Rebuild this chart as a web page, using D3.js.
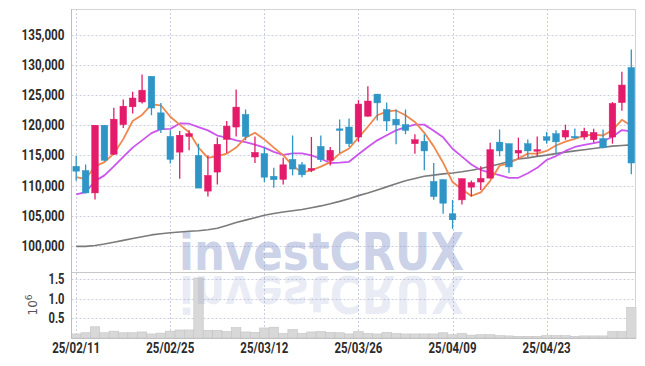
<!DOCTYPE html>
<html>
<head>
<meta charset="utf-8">
<script src="https://cdn.jsdelivr.net/npm/d3@7"></script>
<style>
  body { margin: 0; background: #fff; }
</style>
</head>
<body>
<svg id="chart" width="645" height="366"></svg>
<script>
// trading days, 25/02/11 .. 25/05/09
var dates = ["25/02/11","25/02/12","25/02/13","25/02/14","25/02/17","25/02/18","25/02/19","25/02/20","25/02/21","25/02/24",
  "25/02/25","25/02/26","25/02/27","25/02/28","25/03/04","25/03/05","25/03/06","25/03/07","25/03/10","25/03/11",
  "25/03/12","25/03/13","25/03/14","25/03/17","25/03/18","25/03/19","25/03/20","25/03/21","25/03/24","25/03/25",
  "25/03/26","25/03/27","25/03/28","25/03/31","25/04/01","25/04/02","25/04/03","25/04/04","25/04/07","25/04/08",
  "25/04/09","25/04/10","25/04/11","25/04/14","25/04/15","25/04/16","25/04/17","25/04/18","25/04/21","25/04/22",
  "25/04/23","25/04/24","25/04/25","25/04/28","25/04/29","25/04/30","25/05/02","25/05/07","25/05/08","25/05/09"];

var opens = [113200,112500,108800,120000,115200,120100,123050,123850,128100,122050,
  118150,115550,118150,115000,109100,112250,117650,119700,121800,114750,
  115300,111550,111050,114350,113450,112550,116500,114200,119400,119700,
  118050,121500,125150,122600,121000,120100,116950,117350,110700,111000,
  105350,107650,109750,110600,111250,117200,116950,115400,116950,115750,
  118100,118600,118050,118150,118050,117600,117800,118050,123750,129550];
var highs = [114900,113500,120000,120000,122900,124250,125550,128400,128100,123700,
  119150,119050,119150,116950,115000,117950,120700,125900,122600,118150,
  116300,112950,114600,118300,113900,118050,118300,116400,120950,121100,
  124150,126450,125150,123750,122600,122600,118500,118500,113750,111000,
  107650,111150,110850,113200,117100,119300,116950,117950,117650,118150,
  118900,119150,120100,119450,119600,119400,119300,123850,128850,132550];
var lows = [110800,108700,107700,114100,115100,119550,121950,123600,121650,118700,
  113650,111150,115850,109600,108200,110200,115400,118150,117500,113750,
  110600,109650,110200,111700,111400,112250,113900,113350,115400,116400,
  117250,121400,120800,119050,116850,118500,115300,112550,107650,105350,
  102850,106900,108200,109300,111200,114850,112100,114450,114750,114850,
  116950,115200,117600,117800,117600,117200,116150,116950,122400,111900];
var closes = [112400,108800,120000,114200,121000,123150,124500,125800,122850,119300,
  114350,118350,118600,109600,111700,116850,119850,123000,118150,115500,
  111400,111000,113450,112750,111800,112850,114300,115850,119150,116950,
  123500,124000,123700,120700,120050,119150,117600,115750,108200,107100,
  104350,111150,110500,111200,115950,115750,113100,115850,115750,115950,
  117500,117250,119150,117950,119000,118800,116300,123600,126650,113750];

// moving averages as drawn (orange, purple, grey)
var ma5 = [111400,111100,113200,113900,115300,117700,120700,121700,123450,123300,
  121400,120100,118850,116300,114600,114900,115300,116300,117950,118750,
  117650,116300,115050,113300,112200,112550,113150,113900,115300,116150,
  117950,119750,121650,122250,122450,121650,120550,118750,116500,113800,
  110600,109400,108300,108900,110800,113300,113700,114500,115300,115300,
  115750,116650,117300,117750,118300,118450,118300,119200,120900,119900];
var ma10 = [108550,108950,110750,111700,113200,114750,116300,117500,118700,119350,
  119400,120300,120250,119700,119150,118300,117950,117500,117200,116800,
  116300,115600,115100,115350,115350,115000,114450,113750,113800,113950,
  115200,116400,117500,118350,119150,119700,120100,120100,119100,118000,
  116100,114800,113500,112600,112100,111750,111300,111300,112050,112950,
  114250,114900,115750,116400,116750,117050,117350,118100,119200,119000];
var ma60 = [99950,99950,100100,100350,100650,100950,101250,101550,101850,102050,
  102200,102330,102450,102550,102700,102950,103400,103900,104300,104700,
  105100,105400,105650,105850,106050,106350,106650,107000,107400,107850,
  108350,108800,109300,109800,110300,110800,111200,111550,111750,111950,
  112100,112300,112550,112850,113200,113600,114000,114400,114600,114850,
  115050,115300,115550,115750,115950,116150,116350,116550,116650,116750];

// volume, millions of shares
var volume = [0.11,0.14,0.29,0.14,0.18,0.14,0.14,0.16,0.11,0.13,
  0.18,0.21,0.21,1.52,0.20,0.20,0.17,0.27,0.16,0.15,
  0.26,0.28,0.12,0.22,0.12,0.16,0.17,0.15,0.14,0.11,
  0.17,0.12,0.11,0.15,0.12,0.11,0.11,0.11,0.11,0.14,
  0.09,0.12,0.08,0.09,0.09,0.07,0.06,0.05,0.05,0.05,
  0.07,0.07,0.07,0.05,0.06,0.06,0.06,0.17,0.17,0.78];

var priceTicks = [100000,105000,110000,115000,120000,125000,130000,135000];
var volTicks = [0.5,1.0,1.5];
var dateTicks = ["25/02/11","25/02/25","25/03/12","25/03/26","25/04/09","25/04/23"];

var upColor = "#e31b6a", downColor = "#2e95c6";
var plotL = 71.5, plotR = 636, plotT = 9, plotM = 272.5, plotB = 338.3;

var svg = d3.select("#chart");

var x = d3.scaleBand().domain(dates).range([plotL, plotR]).padding(0);
var cx = function(d) { return x(d) + x.bandwidth() / 2; };
var y = d3.scaleLinear().domain([95630, 139235]).range([plotM, plotT]);
var yv = d3.scaleLinear().domain([0, 1.6575]).range([plotB, plotM]);

// grid
var grid = svg.append("g").attr("stroke", "#c9cde0").attr("stroke-dasharray", "2,2").attr("stroke-width", 1);
priceTicks.forEach(function(t) {
  grid.append("line").attr("x1", plotL).attr("x2", plotR).attr("y1", Math.round(y(t)) + 0.5).attr("y2", Math.round(y(t)) + 0.5);
});
volTicks.forEach(function(t) {
  grid.append("line").attr("x1", plotL).attr("x2", plotR).attr("y1", Math.round(yv(t)) + 0.5).attr("y2", Math.round(yv(t)) + 0.5);
});
dateTicks.forEach(function(d) {
  grid.append("line").attr("x1", Math.round(cx(d)) + 0.5).attr("x2", Math.round(cx(d)) + 0.5).attr("y1", plotT).attr("y2", plotB);
});

// volume bars
svg.append("g").selectAll("rect").data(dates).join("rect")
  .attr("x", function(d) { return x(d); })
  .attr("width", x.bandwidth())
  .attr("y", function(d, i) { return yv(volume[i]); })
  .attr("height", function(d, i) { return plotB - yv(volume[i]); })
  .attr("fill", "#d8d8d8")
  .attr("stroke", "#c4c4c4")
  .attr("stroke-width", 0.6);

// watermark + reflection
svg.append("text").attr("x", 179).attr("y", 270)
  .style("font-family", "'DejaVu Sans', sans-serif").style("font-weight", "bold").style("font-size", "51px")
  .attr("textLength", 285).attr("lengthAdjust", "spacingAndGlyphs")
  .attr("fill", "rgba(120,138,195,0.4)").text("investCRUX");
svg.append("g").attr("transform", "translate(0,546) scale(1,-1)")
  .append("text").attr("x", 179).attr("y", 270)
  .style("font-family", "'DejaVu Sans', sans-serif").style("font-weight", "bold").style("font-size", "51px")
  .attr("textLength", 285).attr("lengthAdjust", "spacingAndGlyphs")
  .attr("fill", "rgba(120,138,195,0.16)").text("investCRUX");

// frame
var frame = svg.append("g").attr("fill", "none");
frame.append("line").attr("x1", plotL).attr("x2", plotR).attr("y1", plotT + 0.5).attr("y2", plotT + 0.5).attr("stroke", "#d4d4d4");
frame.append("line").attr("x1", plotR - 0.5).attr("x2", plotR - 0.5).attr("y1", plotT).attr("y2", plotB).attr("stroke", "#d4d4d4");
frame.append("line").attr("x1", plotL).attr("x2", plotR).attr("y1", plotM).attr("y2", plotM).attr("stroke", "#c8c8c8").attr("stroke-width", 1.2);
frame.append("line").attr("x1", plotL).attr("x2", plotR).attr("y1", plotB).attr("y2", plotB).attr("stroke", "#bdbdbd");
frame.append("line").attr("x1", plotL).attr("x2", plotL).attr("y1", plotT).attr("y2", plotB).attr("stroke", "#bdbdbd");

// moving averages
function maLine(vals, color, w) {
  svg.append("path").datum(vals)
    .attr("fill", "none").attr("stroke", color).attr("stroke-width", w).attr("stroke-linejoin", "round")
    .attr("d", d3.line().x(function(d, i) { return cx(dates[i]); }).y(function(d) { return y(d); }));
}
maLine(ma60, "#7b7b7b", 1.6);
maLine(ma10, "#cc55ee", 1.8);
maLine(ma5, "#f0874c", 1.8);

// candles
var bw = 6.6;
var candle = svg.append("g").selectAll("g").data(dates).join("g")
  .attr("stroke", function(d, i) { return closes[i] >= opens[i] ? upColor : downColor; })
  .attr("fill", function(d, i) { return closes[i] >= opens[i] ? upColor : downColor; });
candle.append("line")
  .attr("x1", cx).attr("x2", cx)
  .attr("y1", function(d, i) { return y(highs[i]); })
  .attr("y2", function(d, i) { return y(lows[i]); })
  .attr("stroke-width", 1.3);
candle.append("rect")
  .attr("x", function(d) { return cx(d) - bw / 2; })
  .attr("width", bw)
  .attr("y", function(d, i) { return y(Math.max(opens[i], closes[i])); })
  .attr("height", function(d, i) { return Math.max(1.5, Math.abs(y(opens[i]) - y(closes[i]))); })
  .attr("stroke-width", 0.5);

// axes
var yAxis = svg.append("g").attr("transform", "translate(" + plotL + ",0)")
  .call(d3.axisLeft(y).tickValues(priceTicks).tickFormat(d3.format(",")).tickSize(0).tickPadding(7));
var vAxis = svg.append("g").attr("transform", "translate(" + plotL + ",0)")
  .call(d3.axisLeft(yv).tickValues(volTicks).tickFormat(d3.format(".1f")).tickSize(0).tickPadding(7));
var xAxis = svg.append("g").attr("transform", "translate(0," + plotB + ")")
  .call(d3.axisBottom(x).tickValues(dateTicks).tickSize(0).tickPadding(5));
[yAxis, vAxis, xAxis].forEach(function(a) {
  a.select(".domain").remove();
  a.selectAll("text").style("font-family", "Roboto, sans-serif")
    .style("font-size", "14px").style("font-weight", "bold").attr("fill", "#2b2b2b");
});
// narrow the labels to the condensed look of the original
yAxis.selectAll("text").attr("textLength", 43).attr("lengthAdjust", "spacingAndGlyphs");
vAxis.selectAll("text").attr("textLength", 16).attr("lengthAdjust", "spacingAndGlyphs");
xAxis.selectAll("text").attr("textLength", 48).attr("lengthAdjust", "spacingAndGlyphs");

// unit label
var unit = svg.append("text").attr("transform", "translate(37,305) rotate(-90)")
  .attr("text-anchor", "middle").attr("fill", "#555").style("font-size", "12px")
  .style("font-family", "'DejaVu Sans', sans-serif");
unit.append("tspan").text("10");
unit.append("tspan").attr("dy", -5).style("font-size", "9px").text("6");
</script>
</body>
</html>
